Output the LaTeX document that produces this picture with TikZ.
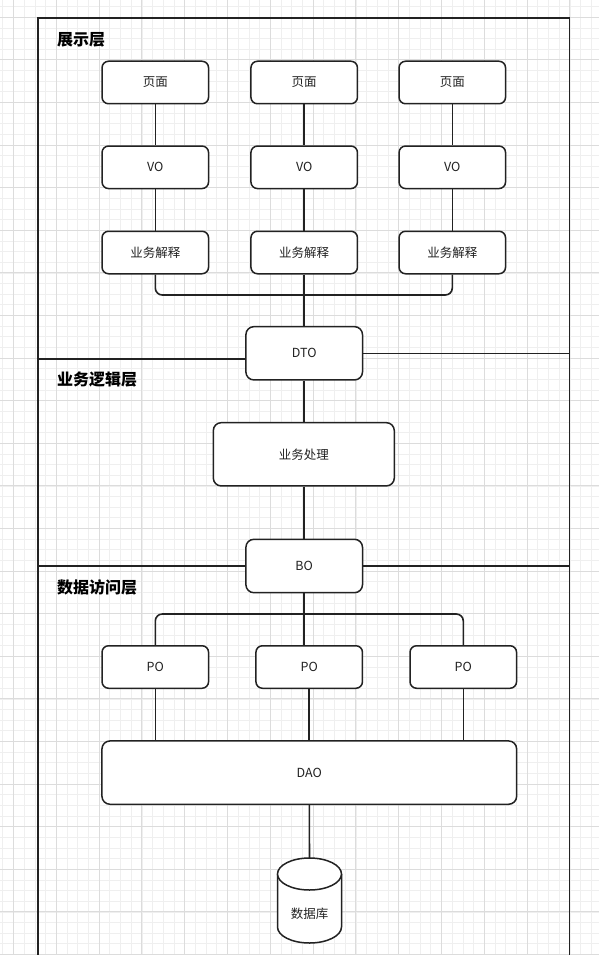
\documentclass[tikz,border=0pt]{standalone}
\usepackage{fontspec}
\setmainfont{Noto Sans CJK SC}
\usetikzlibrary{calc}
\definecolor{gridminor}{HTML}{EFEFEF}
\definecolor{gridmajor}{HTML}{DCDCDC}
\definecolor{ink}{HTML}{222222}
\begin{document}
\begin{tikzpicture}[x=1pt,y=-1pt,
  box/.style={draw=ink, line width=1.5pt, fill=white, rounded corners=6.5pt, inner sep=0pt,
    minimum width=106.5pt, minimum height=42.5pt, font=\fontsize{12.5}{15}\selectfont, text=ink},
  bigbox/.style={box, rounded corners=8pt},
  conn/.style={draw=ink, line width=1.6pt},
  frame/.style={draw=ink, line width=1.8pt},
  layertitle/.style={anchor=west, inner sep=0pt, font=\fontsize{16}{19}\selectfont\bfseries, text=black}]
\useasboundingbox (0,0) rectangle (599,955);
\fill[white] (0,0) rectangle (599,955);
% grid
\foreach \i in {0,...,56} \draw[gridminor, line width=0.8pt] ({2.8+10.7*\i},0) -- ({2.8+10.7*\i},955);
\foreach \i in {0,...,89} \draw[gridminor, line width=0.8pt] (0,{6.65+10.65*\i}) -- (599,{6.65+10.65*\i});
\foreach \i in {0,...,13} \draw[gridmajor, line width=0.9pt] ({13.5+42.8*\i},0) -- ({13.5+42.8*\i},955);
\foreach \i in {0,...,22} \draw[gridmajor, line width=0.9pt] (0,{17.3+42.6*\i}) -- (599,{17.3+42.6*\i});
% outer frame
\draw[frame] (38.3,960) -- (38.3,18.3) -- (569.5,18.3) -- (569.5,960);
% layer titles
\node[layertitle] (t1) at (57,40) {展示层};
\node[layertitle] (t2) at (57,379.5) {业务逻辑层};
\node[layertitle] (t3) at (57,587.5) {数据访问层};
% presentation layer
\node[box] (ym1) at (155.3,82.5) {页面};
\node[box] (ym2) at (304.2,82.5) {页面};
\node[box] (ym3) at (452.3,82.5) {页面};
\node[box] (vo1) at (155.3,167.3) {VO};
\node[box] (vo2) at (304.2,167.3) {VO};
\node[box] (vo3) at (452.3,167.3) {VO};
\node[box] (yj1) at (155.3,252.5) {业务解释};
\node[box] (yj2) at (304.2,252.5) {业务解释};
\node[box] (yj3) at (452.3,252.5) {业务解释};
\node[bigbox, minimum width=116.6pt, minimum height=53.3pt] (dto) at (304.2,353.3) {DTO};
% business layer
\node[bigbox, minimum width=181pt, minimum height=63.3pt] (cl) at (303.8,454.3) {业务处理};
\node[bigbox, minimum width=116.6pt, minimum height=53.4pt] (bo) at (304.2,566) {BO};
% data layer
\node[box] (po1) at (155.3,667) {PO};
\node[box] (po2) at (309.2,667) {PO};
\node[box] (po3) at (463.3,667) {PO};
\node[bigbox, minimum width=414.7pt, minimum height=63.3pt] (dao) at (309.3,772.6) {DAO};
% database cylinder
\coordinate (dbtop) at (309.5,858);
\filldraw[fill=white, draw=ink, line width=1.5pt] (277.5,874) -- (277.5,927) arc[start angle=180, end angle=0, x radius=32, y radius=16] -- (341.5,874);
\filldraw[fill=white, draw=ink, line width=1.5pt] (309.5,874) ellipse [x radius=32, y radius=16];
\node[font=\fontsize{12.5}{15}\selectfont, text=ink, inner sep=0pt] (db) at (309.5,914) {数据库};
% layer separators
\coordinate (L1) at (38.3,358.7);
\coordinate (R1) at (569.5,353.3);
\coordinate (L2) at (38.3,565.8);
\coordinate (R2) at (569.5,565.8);
\draw[conn] (L1) -- (L1 -| dto.west);
\draw[conn] (dto.east) -- (R1);
\draw[conn] (L2) -- (L2 -| bo.west);
\draw[conn] (R2 -| bo.east) -- (R2);
% connectors presentation
\foreach \c in {1,2,3} {
  \draw[conn] (ym\c) -- (vo\c);
  \draw[conn] (vo\c) -- (yj\c);
}
\coordinate (bus1) at (304.2,295);
\draw[conn, rounded corners=7pt] (yj1.south) |- (bus1) -| (yj3.south);
\draw[conn] (yj2.south) -- (dto.north);
\draw[conn] (dto.south) -- (cl.north -| dto.south);
\draw[conn] (cl.south -| bo.north) -- (bo.north);
% connectors data
\coordinate (bus2) at (304.2,614);
\draw[conn, rounded corners=7pt] (po1.north) |- (bus2) -| (po3.north);
\draw[conn] (bo.south) -- (bo.south |- po2.north);
\draw[conn] (po1.south) -- (po1.south |- dao.north);
\draw[conn] (po2.south) -- (po2.south |- dao.north);
\draw[conn] (po3.south) -- (po3.south |- dao.north);
\draw[conn] (dao.south) -- (dbtop);
\end{tikzpicture}
\end{document}
